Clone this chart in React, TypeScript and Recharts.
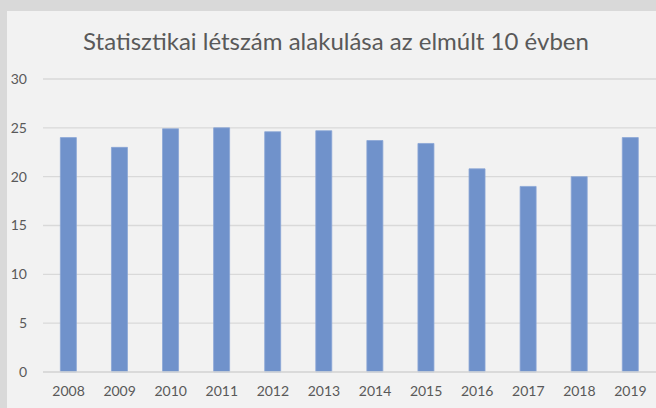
import React from "react";
import { BarChart, Bar, XAxis, YAxis, CartesianGrid } from "recharts";

const years = ["2008", "2009", "2010", "2011", "2012", "2013", "2014", "2015", "2016", "2017", "2018", "2019"];
const headcount = [24, 23, 24.9, 25, 24.6, 24.7, 23.7, 23.4, 20.8, 19, 20, 24];
const yTicks = [0, 5, 10, 15, 20, 25, 30];
const title = "Statisztikai létszám alakulása az elmúlt 10 évben";

const data = years.map((y, i) => ({ year: y, value: headcount[i] }));

export default function App() {
  return (
    <div style={{ position: "absolute", left: 0, top: 0, width: 656, height: 408, background: "#d9d9d9", overflow: "hidden" }}>
      <div style={{ position: "absolute", left: 7, top: 11, width: 649, height: 397, background: "#f2f2f2" }}>
        <BarChart width={649} height={397} data={data} margin={{ top: 68, right: 0, bottom: 0, left: 0 }} barCategoryGap="34%">
          <text x={329} y={39} textAnchor="middle" fill="#595959" fontFamily="Lato" fontSize={24}>
            {title}
          </text>
          <CartesianGrid vertical={false} stroke="#d9d9d9" strokeWidth={1.3} />
          <XAxis
            dataKey="year"
            axisLine={{ stroke: "#d9d9d9", strokeWidth: 1.3 }}
            tickLine={false}
            tickSize={6}
            tickMargin={8}
            height={36}
            interval={0}
            tick={{ fill: "#595959", fontFamily: "Lato", fontSize: 14 }}
          />
          <YAxis
            domain={[0, 30]}
            ticks={yTicks}
            axisLine={false}
            tickLine={false}
            tickSize={6}
            tickMargin={10}
            width={36}
            tick={{ fill: "#595959", fontFamily: "Lato", fontSize: 14 }}
          />
          <Bar dataKey="value" fill="#7092cb" stroke="#8aa6d6" strokeWidth={0.8} isAnimationActive={false} />
        </BarChart>
      </div>
    </div>
  );
}
